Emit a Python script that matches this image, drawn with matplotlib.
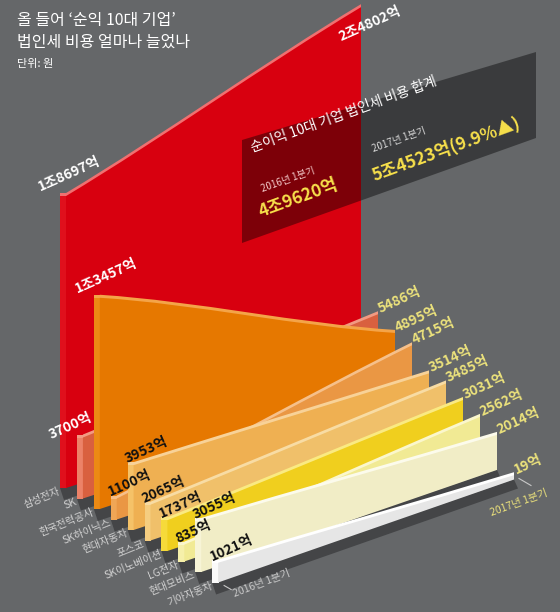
import numpy as np
import matplotlib
matplotlib.use('agg')
from matplotlib import pyplot as plt
from matplotlib.path import Path
from matplotlib.patches import PathPatch, Polygon, Rectangle

plt.rcParams['font.family'] = ['Noto Sans CJK KR', 'DejaVu Sans']

# 법인세 비용, 단위: 억원
companies = ['삼성전자', 'SK', '한국전력공사', 'SK하이닉스', '현대자동차',
             '포스코', 'SK이노베이션', 'LG전자', '현대모비스', '기아자동차']
tax_2016 = [18697, 3700, 13457, 1100, 3953, 2065, 1737, 835, 3055, 1021]
tax_2017 = [24802, 5486, 4895, 4715, 3514, 3485, 3031, 2562, 2014, 19]
periods = ['2016년 1분기', '2017년 1분기']

title_lines = ['올 들어 ‘순익 10대 기업’', '법인세 비용 얼마나 늘었나']
unit_text = '단위: 원'
box_title = '순이익 10대 기업 법인세 비용 합계'

body_colors = ['#d8000f', '#d9603f', '#e67800', '#ea9744', '#efb052',
               '#f0c06a', '#f0cf1e', '#f1ea94', '#f1edc6', '#e6e6e6']
cap_colors = ['#e0101c', '#ec8268', '#ec8a14', '#f0a656', '#f5c268',
              '#f5cd80', '#f6da3a', '#f6f0aa', '#f7f4d6', '#fafafa']
top_colors = ['#f07070', '#f29a82', '#f4a448', '#f6c08a', '#f8d298',
              '#f8dca4', '#faea82', '#fbf7cc', '#fcfbec', '#ffffff']
left_label_colors = ['white', 'white', 'white'] + ['#111111'] * 7
BG = '#656769'
YELLOW = '#ece27c'


def fmt(v):
    if v >= 10000:
        return '{}조{}억'.format(v // 10000, v % 10000)
    return '{}억'.format(v)


# perspective layout of the ribbons (pixel space)
K = 0.0154
H0 = 4
XL0, DXL = 60, 16.9
BL0, DBL = 488, 10.5
XR0, DXR = 361, 17.0
BR0, DBR = 393.1, 9.6
CAP_W = 6
BEND = 0.12   # how much the top edge follows the floor direction at its ends
ROT = 24

left_off = {0: (-20, -5), 1: (-26, 2), 2: (-16, -5)}
right_off = {0: (-20, 34)}


def ribbon_path(x0, y0, h0, x1, y1, h1, shift=0.0):
    t0 = np.array([x0, y0 - h0 + shift])
    t1 = np.array([x1, y1 - h1 + shift])
    chord = t1 - t0
    floor = np.array([x1 - x0, y1 - y0])
    d = (1 - BEND) * chord + BEND * floor
    verts = [(x0, y0 + shift), tuple(t0), tuple(t0 + d / 3), tuple(t1 - d / 3),
             tuple(t1), (x1, y1 + shift), (x0, y0 + shift)]
    codes = [Path.MOVETO, Path.LINETO, Path.CURVE4, Path.CURVE4, Path.CURVE4,
             Path.LINETO, Path.CLOSEPOLY]
    return Path(verts, codes)


fig = plt.figure(figsize=(5.6, 6.12), dpi=100)
fig.patch.set_facecolor(BG)
ax = fig.add_axes([0, 0, 1, 1])
ax.set_xlim(0, 560)
ax.set_ylim(612, 0)
ax.axis('off')

geo = []
for i in range(len(companies)):
    xc = XL0 + DXL * i
    x0 = xc + CAP_W
    y0 = BL0 + DBL * i
    x1 = XR0 + DXR * i
    y1 = BR0 + DBR * i
    h0 = H0 + K * tax_2016[i]
    h1 = H0 + K * tax_2017[i]
    geo.append((xc, x0, y0, x1, y1, h0, h1))
    z = 2 + i
    # floor shadow
    ax.add_patch(Polygon([(xc, y0), (x1, y1), (x1 + 4, y1 + 9), (xc + 4, y0 + 12)],
                         closed=True, facecolor='#1c1c1e', alpha=0.45,
                         edgecolor='none', zorder=z))
    # lit top edge
    ax.add_patch(PathPatch(ribbon_path(x0, y0, h0, x1, y1, h1, shift=-3),
                           facecolor=top_colors[i], edgecolor='none', zorder=z))
    ax.add_patch(Rectangle((xc, y0 - h0 - 3), CAP_W + 1, h0, facecolor=top_colors[i],
                           edgecolor='none', zorder=z))
    # front cap
    ax.add_patch(Rectangle((xc, y0 - h0), CAP_W + 0.5, h0, facecolor=cap_colors[i],
                           edgecolor='none', zorder=z))
    # body
    ax.add_patch(PathPatch(ribbon_path(x0, y0, h0, x1, y1, h1),
                           facecolor=body_colors[i], edgecolor='none', zorder=z))

# value labels and company names
for i, (xc, x0, y0, x1, y1, h0, h1) in enumerate(geo):
    ox, oy = left_off.get(i, (0, -2))
    ax.text(xc + ox, y0 - h0 + oy, fmt(tax_2016[i]), rotation=ROT,
            rotation_mode='anchor', ha='left', va='baseline', fontsize=10,
            fontweight='bold', color=left_label_colors[i], zorder=30)
    ox, oy = right_off.get(i, (2, -1))
    ax.text(x1 + ox, y1 - h1 + oy, fmt(tax_2017[i]), rotation=ROT,
            rotation_mode='anchor', ha='left', va='baseline', fontsize=10,
            fontweight='bold', color='white' if i == 0 else YELLOW, zorder=30)
    ax.text(xc - 2, y0 - 2, companies[i], rotation=22, rotation_mode='anchor',
            ha='right', va='top', fontsize=7.5, color='#d2d2d2', zorder=30)

# period axis marks
xc, x0, y0, x1, y1, h0, h1 = geo[-1]
ax.plot([x0 + 6, x0 + 13], [y0 + 3, y0 + 7], color='#c8c8c8', lw=0.8, zorder=30)
ax.text(x0 + 17, y0 + 15, periods[0], rotation=21, rotation_mode='anchor',
        ha='left', va='baseline', fontsize=7.5, color='#c8c8c8', zorder=30)
ax.plot([x1 + 5, x1 + 17], [y1 - 1, y1 + 6], color='#c8c8c8', lw=0.8, zorder=30)
ax.text(x1 + 34, y1 + 16, periods[1], rotation=20, rotation_mode='anchor',
        ha='right', va='baseline', fontsize=7.5, color=YELLOW, zorder=30)

# title
ax.text(17, 12, title_lines[0], ha='left', va='top', fontsize=11.5, color='white', zorder=40)
ax.text(17, 34, title_lines[1], ha='left', va='top', fontsize=11.5, color='white', zorder=40)
ax.text(17, 59, unit_text, ha='left', va='top', fontsize=8, color='white', zorder=40)

# total box
total_2016 = sum(tax_2016)
total_2017 = sum(tax_2017)
growth = (total_2017 / total_2016 - 1) * 100
ax.add_patch(Polygon([(242, 140), (536, 52), (536, 138), (242, 243)], closed=True,
                     facecolor='black', alpha=0.42, edgecolor='none', zorder=35))
ax.text(253, 152, box_title, rotation=20, rotation_mode='anchor', ha='left',
        va='baseline', fontsize=10, color='white', zorder=40)
ax.text(263, 192, periods[0], rotation=20, rotation_mode='anchor', ha='left',
        va='baseline', fontsize=7, color='#f3c9c9', zorder=40)
ax.text(261, 217, fmt(total_2016), rotation=20, rotation_mode='anchor', ha='left',
        va='baseline', fontsize=12.5, fontweight='bold', color='#f7e04b', zorder=40)
ax.text(374, 152, periods[1], rotation=20, rotation_mode='anchor', ha='left',
        va='baseline', fontsize=7, color='#d8d8d8', zorder=40)
ax.text(374, 181, '{}({:.1f}%▲)'.format(fmt(total_2017), growth), rotation=20,
        rotation_mode='anchor', ha='left', va='baseline', fontsize=12.5,
        fontweight='bold', color='#f7e04b', zorder=40)

fig.savefig('out.png', dpi=100, facecolor=BG)
